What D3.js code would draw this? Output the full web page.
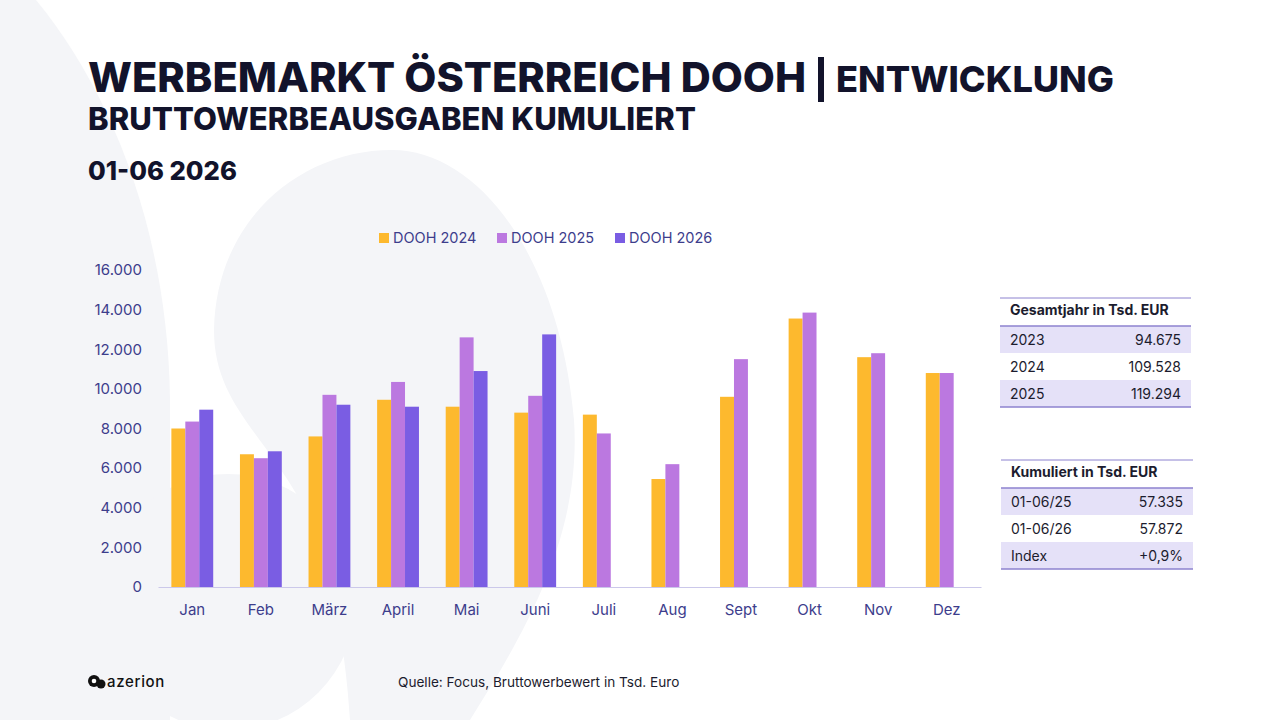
<!DOCTYPE html>
<html lang="de">
<head>
<meta charset="UTF-8">
<title>Werbemarkt Österreich DOOH</title>
<script src="https://d3js.org/d3.v7.min.js"></script>
<style>
    html, body { margin: 0; padding: 0; background: #fff; }
    svg { display: block; font-family: Inter, "Open Sans", sans-serif; }
    .axis text { fill: #3d3d8c; font-size: 15px; }
    .ttl { fill: #12132b; font-weight: 800; }
    .tbl text { fill: #1c1c2e; font-size: 14px; }
</style>
</head>
<body>
<svg id="chart" width="1280" height="720"></svg>
<script>
    // chart data
    var months = ["Jan","Feb","März","April","Mai","Juni","Juli","Aug","Sept","Okt","Nov","Dez"];
    var seriesNames = ["DOOH 2024","DOOH 2025","DOOH 2026"];
    var dooh2024 = [8000, 6700, 7600, 9450, 9100, 8800, 8700, 5450, 9600, 13550, 11600, 10800];
    var dooh2025 = [8350, 6500, 9700, 10350, 12600, 9650, 7750, 6200, 11500, 13850, 11800, 10800];
    var dooh2026 = [8950, 6850, 9200, 9100, 10900, 12750];
    var yTicks = [0, 2000, 4000, 6000, 8000, 10000, 12000, 14000, 16000];

    var tableYears = ["2023","2024","2025"];
    var tableYearValues = ["94.675","109.528","119.294"];
    var tableCumLabels = ["01-06/25","01-06/26","Index"];
    var tableCumValues = ["57.335","57.872","+0,9%"];

    var colors = ["#fdb92e", "#bb78e0", "#7a5de3"];

    var de = d3.formatLocale({decimal: ",", thousands: ".", grouping: [3], currency: ["", " €"]});
    var fmt = de.format(",");

    var svg = d3.select("#chart");

    // size a text so that it is as wide as the reference (never larger than its start size)
    function fitWidth(sel, target) {
        var fs = +sel.attr("font-size");
        var w = sel.node().getComputedTextLength();
        if (w > target) sel.attr("font-size", (fs * target / w).toFixed(2));
        else sel.attr("letter-spacing", ((target - w) / sel.text().length).toFixed(2));
        return sel;
    }

    // faint background watermark shapes
    var bg = svg.append("g").attr("fill", "#f4f5f8");
    bg.append("path").attr("d", "M0,0 H36 C110,90 168,230 170,400 L170,480 L0,720 Z");
    bg.append("path").attr("d", "M0,400 L170,470 L170,720 L0,720 Z");
    bg.append("circle").attr("cx", 228).attr("cy", 602).attr("r", 128);
    bg.append("path").attr("d", "M214,330 C216,220 300,150 392,150 C480,150 560,260 574,420 C582,540 520,640 470,720 L350,720 C345,640 330,560 300,500 C260,430 214,400 214,330 Z");

    // titles
    fitWidth(svg.append("text").attr("class", "ttl").attr("x", 88).attr("y", 92)
        .attr("font-size", 46).text("WERBEMARKT ÖSTERREICH DOOH"), 718);
    // separator bar
    svg.append("rect").attr("x", 818).attr("y", 57).attr("width", 6).attr("height", 45).attr("fill", "#12132b");
    fitWidth(svg.append("text").attr("class", "ttl").attr("x", 836).attr("y", 92)
        .attr("font-size", 41).text("ENTWICKLUNG"), 278);
    fitWidth(svg.append("text").attr("class", "ttl").attr("x", 88).attr("y", 130)
        .attr("font-size", 31).text("BRUTTOWERBEAUSGABEN KUMULIERT"), 608);
    fitWidth(svg.append("text").attr("class", "ttl").attr("x", 88).attr("y", 180)
        .attr("font-size", 32).text("01-06 2026"), 149);

    // scales
    var x = d3.scaleBand().domain(months).range([158, 981]).paddingInner(0.39).paddingOuter(0.195);
    var xs = d3.scaleBand().domain(d3.range(seriesNames.length)).range([0, x.bandwidth()]);
    var y = d3.scaleLinear().domain([0, 16000]).range([587, 270]);

    var yAxis = svg.append("g").attr("class", "axis").attr("transform", "translate(158,0)")
        .call(d3.axisLeft(y).tickValues(yTicks).tickFormat(fmt).tickSize(0).tickPadding(16));
    yAxis.select(".domain").remove();
    yAxis.selectAll("text").attr("font-family", "Inter, sans-serif");

    var series = [dooh2024, dooh2025, dooh2026];
    series.forEach(function(vals, s) {
        svg.append("g").attr("fill", colors[s])
            .selectAll("rect").data(vals).enter().append("rect")
            .attr("x", function(d, i) { return x(months[i]) + xs(s); })
            .attr("width", xs.bandwidth())
            .attr("y", function(d) { return y(d); })
            .attr("height", function(d) { return y(0) - y(d); });
    });

    var xAxis = svg.append("g").attr("class", "axis").attr("transform", "translate(0,587)")
        .call(d3.axisBottom(x).tickSize(0).tickPadding(17));
    xAxis.select(".domain").attr("stroke", "#cbc8ea").attr("stroke-width", 1.2);
    xAxis.selectAll("text").attr("font-family", "Inter, sans-serif");

    // legend
    var legX = [379, 497, 615];
    var leg = svg.append("g").selectAll("g").data(seriesNames).enter().append("g")
        .attr("transform", function(d, i) { return "translate(" + legX[i] + ",233)"; });
    leg.append("rect").attr("width", 10).attr("height", 10).attr("fill", function(d, i) { return colors[i]; });
    leg.append("text").attr("x", 14).attr("y", 10).attr("font-size", 14.5).attr("fill", "#3d3d8c").text(function(d) { return d; });

    // side tables
    function drawTable(x0, x1, top, title, labels, values) {
        var g = svg.append("g").attr("class", "tbl");
        var rowH = 27;
        var hdrH = 28;
        labels.forEach(function(l, i) {
            if (i % 2 === 0) {
                g.append("rect").attr("x", x0).attr("y", top + hdrH + i * rowH)
                    .attr("width", x1 - x0).attr("height", rowH).attr("fill", "#e5e1f8");
            }
            g.append("text").attr("x", x0 + 10).attr("y", top + hdrH + i * rowH + 19).text(l);
            g.append("text").attr("x", x1 - 10).attr("y", top + hdrH + i * rowH + 19)
                .attr("text-anchor", "end").text(values[i]);
        });
        g.append("text").attr("x", x0 + 10).attr("y", top + 17).attr("font-size", 12.5)
            .attr("font-weight", 700).text(title);
        [top, top + hdrH, top + hdrH + labels.length * rowH].forEach(function(yy, i) {
            g.append("line").attr("x1", x0).attr("x2", x1).attr("y1", yy).attr("y2", yy)
                .attr("stroke", "#8c82cf").attr("stroke-width", i === 0 ? 1 : 1.5);
        });
    }
    drawTable(1000, 1191, 298, "Gesamtjahr in Tsd. EUR", tableYears, tableYearValues);
    drawTable(1001, 1193, 460, "Kumuliert in Tsd. EUR", tableCumLabels, tableCumValues);

    // footer
    var logo = svg.append("g").attr("fill", "#111");
    logo.append("circle").attr("cx", 94).attr("cy", 681).attr("r", 6);
    logo.append("circle").attr("cx", 101).attr("cy", 684).attr("r", 4.5);
    logo.append("circle").attr("cx", 94).attr("cy", 681).attr("r", 2.3).attr("fill", "#fff");
    fitWidth(svg.append("text").attr("x", 107).attr("y", 687).attr("font-size", 15).attr("font-weight", 500)
        .attr("fill", "#111").text("azerion"), 58);
    svg.append("text").attr("x", 398).attr("y", 687).attr("font-size", 13.6).attr("fill", "#1c1c2e")
        .text("Quelle: Focus, Bruttowerbewert in Tsd. Euro");
</script>
</body>
</html>
